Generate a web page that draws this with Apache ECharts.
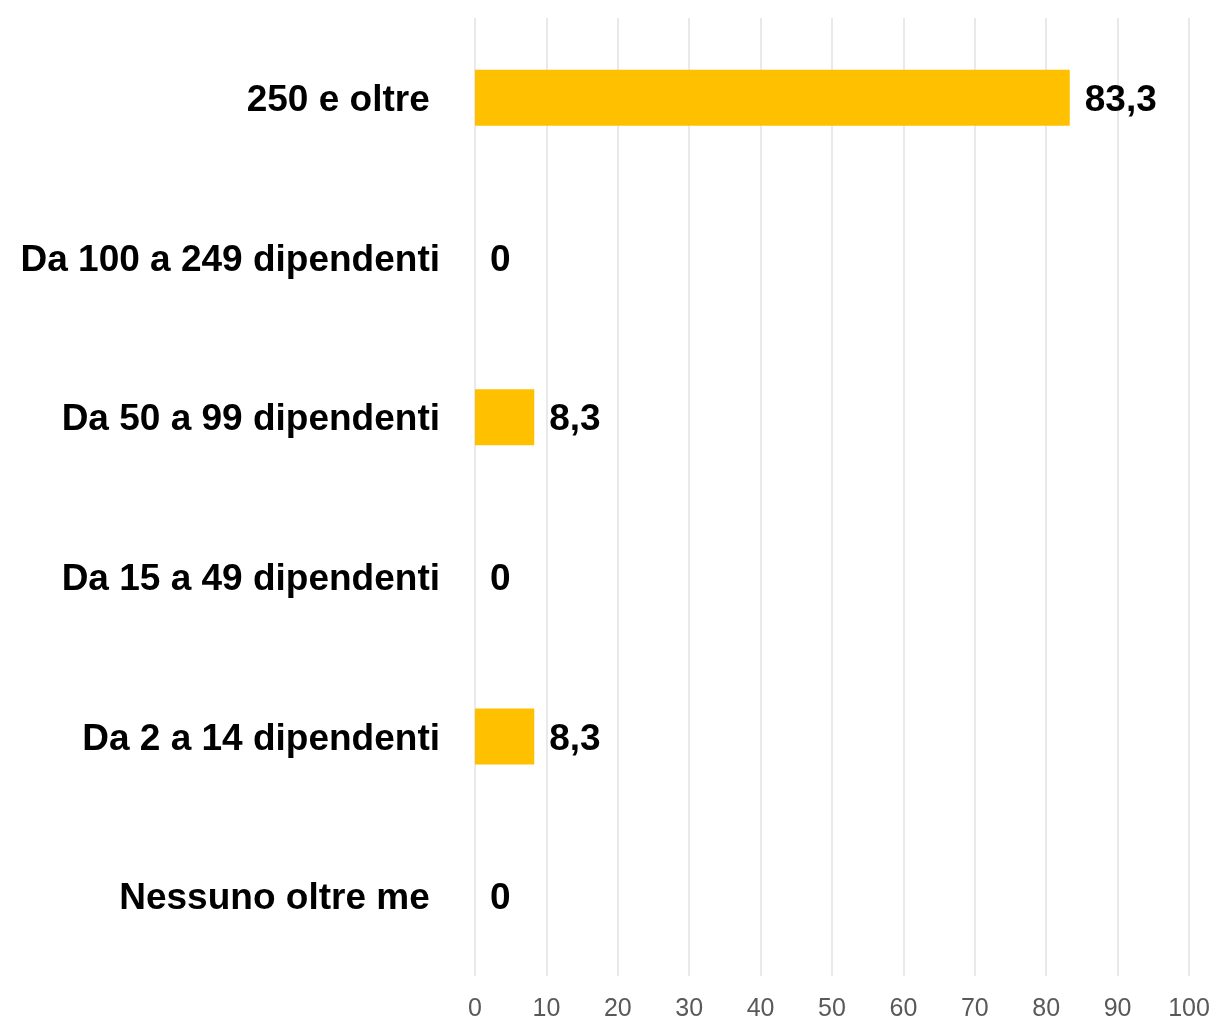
<!DOCTYPE html>
<html>
<head>
<meta charset="utf-8">
<script src="https://cdn.jsdelivr.net/npm/echarts@6/dist/echarts.min.js"></script>
<style>
html,body{margin:0;padding:0;background:#fff;}
#chart{width:1214px;height:1019px;}
</style>
</head>
<body>
<div id="chart"></div>
<script>
const categories = ["250 e oltre ", "Da 100 a 249 dipendenti", "Da 50 a 99 dipendenti", "Da 15 a 49 dipendenti", "Da 2 a 14 dipendenti", "Nessuno oltre me "];
const values = [83.3, 0, 8.3, 0, 8.3, 0];
const xTicks = { min: 0, max: 100, interval: 10 };

const chart = echarts.init(document.getElementById('chart'), null, { renderer: 'canvas' });
chart.setOption({
  animation: false,
  backgroundColor: '#ffffff',
  grid: { left: 475, right: 25, top: 18, bottom: 43, containLabel: false, outerBoundsMode: 'none' },
  xAxis: {
    type: 'value',
    min: xTicks.min, max: xTicks.max, interval: xTicks.interval,
    axisLine: { show: false },
    axisTick: { show: false },
    splitLine: { show: true, lineStyle: { color: '#e9e9e9', width: 2 } },
    axisLabel: { color: '#595959', fontSize: 25, fontFamily: 'Liberation Sans, Arial, sans-serif', margin: 21 }
  },
  yAxis: {
    type: 'category',
    data: categories,
    inverse: true,
    axisLine: { show: false },
    axisTick: { show: false },
    splitLine: { show: false },
    axisLabel: {
      color: '#000000', fontSize: 37, fontWeight: 'bold', fontFamily: 'Liberation Sans, Arial, sans-serif', margin: 35,
      formatter: v => '{a|' + v + '}',
      rich: { a: { color: '#000000', fontSize: 37, fontWeight: 'bold', fontFamily: 'Liberation Sans, Arial, sans-serif', padding: [6, 0, 0, 0] } }
    }
  },
  series: [{
    type: 'bar',
    data: values,
    barWidth: 56,
    itemStyle: { color: '#FFC000' },
    label: {
      show: true,
      position: 'right',
      distance: 15,
      offset: [0, 3],
      color: '#000000',
      fontSize: 37,
      fontWeight: 'bold',
      fontFamily: 'Liberation Sans, Arial, sans-serif',
      formatter: p => String(p.value).replace('.', ',')
    }
  }]
});
</script>
</body>
</html>
